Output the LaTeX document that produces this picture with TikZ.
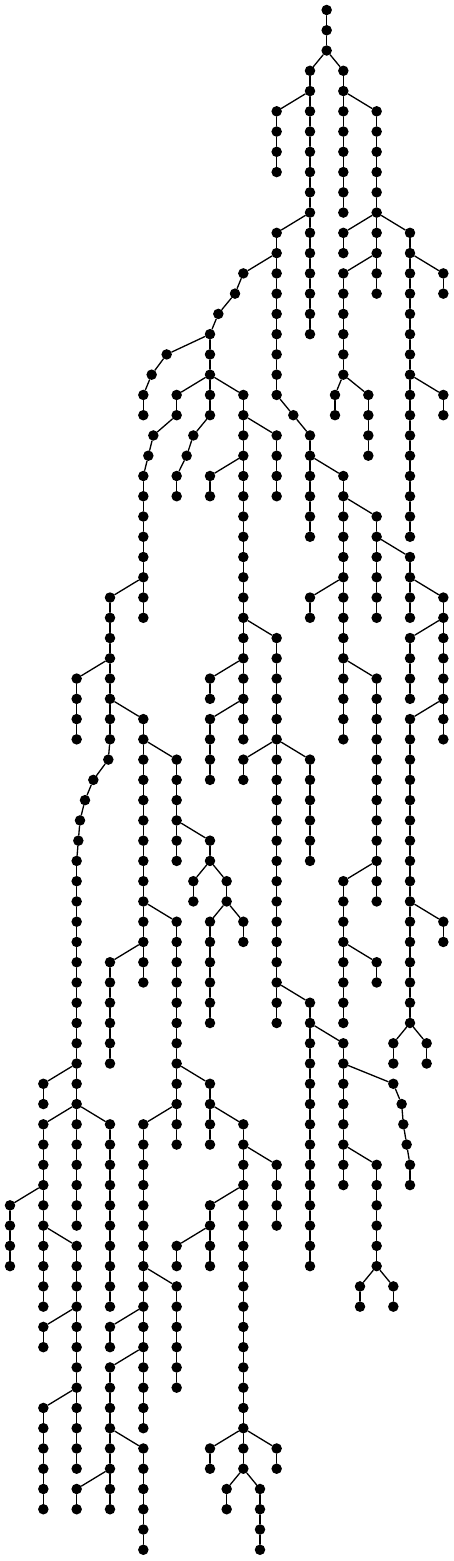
\documentclass[tikz,border=0pt]{standalone}
\usepackage{tikz}
\tikzset{vert/.style={circle,fill=black,inner sep=0pt,minimum size=0.21cm},
  link/.style={line width=0.75pt}}
\newcommand{\treechain}[4]{%
  \foreach \r in {#2,...,#3}{%
    \node[vert] (n#1-\r) at (#1/10,\r) {};
    \ifnum\r>#2\relax
      \pgfmathtruncatemacro\rprev{\r-1}
      \draw[link] (n#1-\rprev) -- (n#1-\r);
    \fi
  }%
  \ifx\relax#4\relax\else\draw[link] (#4) -- (n#1-#2);\fi
}
\begin{document}
\begin{tikzpicture}[line cap=round,line join=round,x=0.33333cm,y=-0.4052cm]
        \useasboundingbox (-0.6,-0.4936) rectangle (26.64,76.555);
        \treechain{190}{0}{2}{}
        \treechain{180}{3}{16}{n190-2}
        \treechain{200}{3}{10}{n190-2}
        \treechain{160}{5}{8}{n180-4}
        \treechain{220}{5}{14}{n200-4}
        \treechain{160}{11}{19}{n180-10}
        \treechain{170}{20}{20}{n160-19}
        \treechain{180}{21}{26}{n170-20}
        \treechain{200}{11}{12}{n220-10}
        \treechain{240}{11}{26}{n220-10}
        \treechain{200}{13}{18}{n220-12}
        \treechain{260}{13}{14}{n240-12}
        \treechain{140}{13}{13}{n160-12}
        \treechain{135}{14}{14}{n140-13}
        \treechain{125}{15}{15}{n135-14}
        \treechain{120}{16}{20}{n125-15}
        \treechain{94}{17}{17}{n120-16}
        \treechain{85}{18}{18}{n94-17}
        \treechain{80}{19}{20}{n85-18}
        \treechain{100}{19}{20}{n120-18}
        \treechain{86}{21}{21}{n100-20}
        \treechain{83}{22}{22}{n86-21}
        \treechain{80}{23}{30}{n83-22}
        \treechain{110}{21}{21}{n120-20}
        \treechain{106}{22}{22}{n110-21}
        \treechain{100}{23}{24}{n106-22}
        \treechain{140}{19}{36}{n120-18}
        \treechain{195}{19}{20}{n200-18}
        \treechain{215}{19}{22}{n200-18}
        \treechain{260}{19}{20}{n240-18}
        \treechain{160}{21}{24}{n140-20}
        \treechain{120}{23}{24}{n140-22}
        \treechain{200}{23}{36}{n180-22}
        \treechain{220}{25}{30}{n200-24}
        \treechain{240}{27}{30}{n220-26}
        \treechain{60}{29}{36}{n80-28}
        \treechain{59}{37}{37}{n60-36}
        \treechain{50}{38}{38}{n59-37}
        \treechain{45}{39}{39}{n50-38}
        \treechain{42}{40}{40}{n45-39}
        \treechain{41}{41}{41}{n42-40}
        \treechain{40}{42}{60}{n41-41}
        \treechain{180}{29}{30}{n200-28}
        \treechain{260}{29}{36}{n240-28}
        \treechain{160}{31}{50}{n140-30}
        \treechain{240}{31}{34}{n260-30}
        \treechain{40}{33}{36}{n60-32}
        \treechain{120}{33}{34}{n140-32}
        \treechain{220}{33}{44}{n200-32}
        \treechain{80}{35}{48}{n60-34}
        \treechain{120}{35}{38}{n140-34}
        \treechain{240}{35}{50}{n260-34}
        \treechain{100}{37}{42}{n80-36}
        \treechain{140}{37}{38}{n160-36}
        \treechain{180}{37}{42}{n160-36}
        \treechain{120}{41}{42}{n100-40}
        \treechain{110}{43}{44}{n120-42}
        \treechain{130}{43}{44}{n120-42}
        \treechain{200}{43}{50}{n220-42}
        \treechain{100}{45}{56}{n80-44}
        \treechain{120}{45}{50}{n130-44}
        \treechain{140}{45}{46}{n130-44}
        \treechain{260}{45}{46}{n240-44}
        \treechain{60}{47}{52}{n80-46}
        \treechain{220}{47}{48}{n200-46}
        \treechain{180}{49}{62}{n160-48}
        \treechain{230}{51}{52}{n240-50}
        \treechain{250}{51}{52}{n240-50}
        \treechain{200}{51}{58}{n180-50}
        \treechain{20}{53}{54}{n40-52}
        \treechain{120}{53}{56}{n100-52}
        \treechain{230}{53}{53}{n200-52}
        \treechain{235}{54}{54}{n230-53}
        \treechain{236}{55}{55}{n235-54}
        \treechain{238}{56}{56}{n236-55}
        \treechain{240}{57}{58}{n238-56}
        \treechain{20}{55}{64}{n40-54}
        \treechain{60}{55}{64}{n40-54}
        \treechain{80}{55}{70}{n100-54}
        \treechain{140}{55}{72}{n120-54}
        \treechain{160}{57}{60}{n140-56}
        \treechain{220}{57}{62}{n200-56}
        \treechain{0}{59}{62}{n20-58}
        \treechain{120}{59}{62}{n140-58}
        \treechain{40}{61}{72}{n20-60}
        \treechain{100}{61}{62}{n120-60}
        \treechain{100}{63}{68}{n80-62}
        \treechain{210}{63}{64}{n220-62}
        \treechain{230}{63}{64}{n220-62}
        \treechain{20}{65}{66}{n40-64}
        \treechain{60}{65}{66}{n80-64}
        \treechain{60}{67}{74}{n80-66}
        \treechain{20}{69}{74}{n40-68}
        \treechain{80}{71}{76}{n60-70}
        \treechain{120}{71}{72}{n140-70}
        \treechain{160}{71}{72}{n140-70}
        \treechain{40}{73}{74}{n60-72}
        \treechain{130}{73}{74}{n140-72}
        \treechain{150}{73}{76}{n140-72}
    \end{tikzpicture}
\end{document}
